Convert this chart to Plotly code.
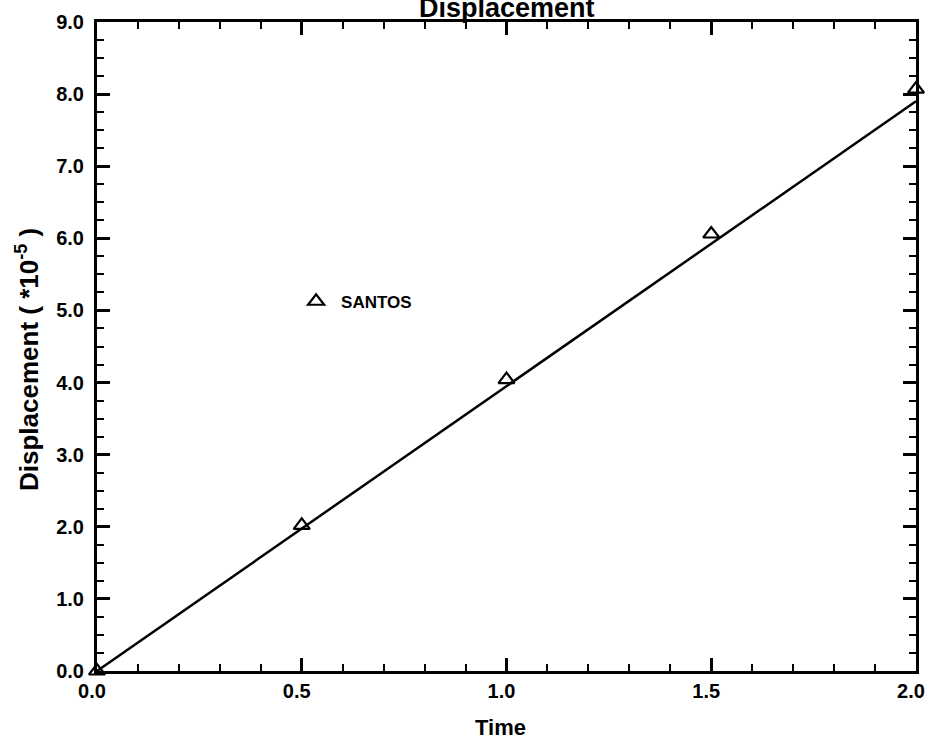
import plotly.graph_objects as go

# Data
time_points = [0.0, 0.5, 1.0, 1.5, 2.0]
santos_disp = [0.0, 2.02, 4.04, 6.06, 8.07]
line_time = [0.0, 2.0]
line_disp = [0.0, 7.9]

FONT = "Liberation Sans"

fig = go.Figure()
fig.add_trace(go.Scatter(
    x=line_time, y=line_disp, mode="lines",
    line=dict(color="black", width=2.5), showlegend=False,
    hoverinfo="skip",
))
fig.add_trace(go.Scatter(
    x=time_points, y=santos_disp, mode="markers", name="SANTOS",
    marker=dict(symbol="triangle-up-open", size=14, color="black",
                line=dict(width=2.2, color="black")),
    cliponaxis=False,
))

axis_common = dict(
    showgrid=False, zeroline=False, showline=True, linewidth=3,
    linecolor="black", mirror="ticks", ticks="inside", tickwidth=2.5,
    ticklen=13, tickcolor="black", automargin=False,
    ticklabeloverflow="allow",
    tickfont=dict(family=FONT, size=20, color="black", weight="bold"),
    tickformat=".1f",
)

fig.update_xaxes(range=[0, 2.0], dtick=0.5, tick0=0, ticklabelshift=-5,
                 minor=dict(dtick=0.1, ticks="inside", ticklen=7,
                            tickwidth=2.2, tickcolor="black"),
                 **axis_common)
fig.update_yaxes(range=[0, 9.0], dtick=1.0, tick0=0, ticklabelstandoff=6,
                 minor=dict(dtick=0.25, ticks="inside", ticklen=7,
                            tickwidth=2.2, tickcolor="black"),
                 **axis_common)

fig.update_layout(
    width=927, height=740,
    margin=dict(l=97, r=11, t=22, b=69),
    paper_bgcolor="white", plot_bgcolor="white",
    showlegend=True,
    legend=dict(x=0.237, y=0.569, xanchor="left", yanchor="middle",
                bgcolor="rgba(0,0,0,0)",
                font=dict(family=FONT, size=17, color="black", weight="bold"),
                itemwidth=40),
    annotations=[
        dict(text="Displacement", xref="paper", yref="paper",
             x=0.5, y=1.0 - 3 / 649, xanchor="center", yanchor="bottom",
             showarrow=False,
             font=dict(family=FONT, size=27, color="black", weight="bold")),
        dict(text="Time", xref="paper", yref="paper",
             x=(500 - 97) / 819, y=-(727 - 671) / 649, xanchor="center",
             yanchor="middle", showarrow=False,
             font=dict(family=FONT, size=22, color="black", weight="bold")),
        dict(text="Displacement ( *10<sup>-5</sup> )", xref="paper",
             yref="paper", x=-(97 - 27) / 819, y=(671 - 360) / 649,
             xanchor="center", yanchor="middle", textangle=-90,
             showarrow=False,
             font=dict(family=FONT, size=26, color="black", weight="bold")),
    ],
)

fig.write_html("out.html")
